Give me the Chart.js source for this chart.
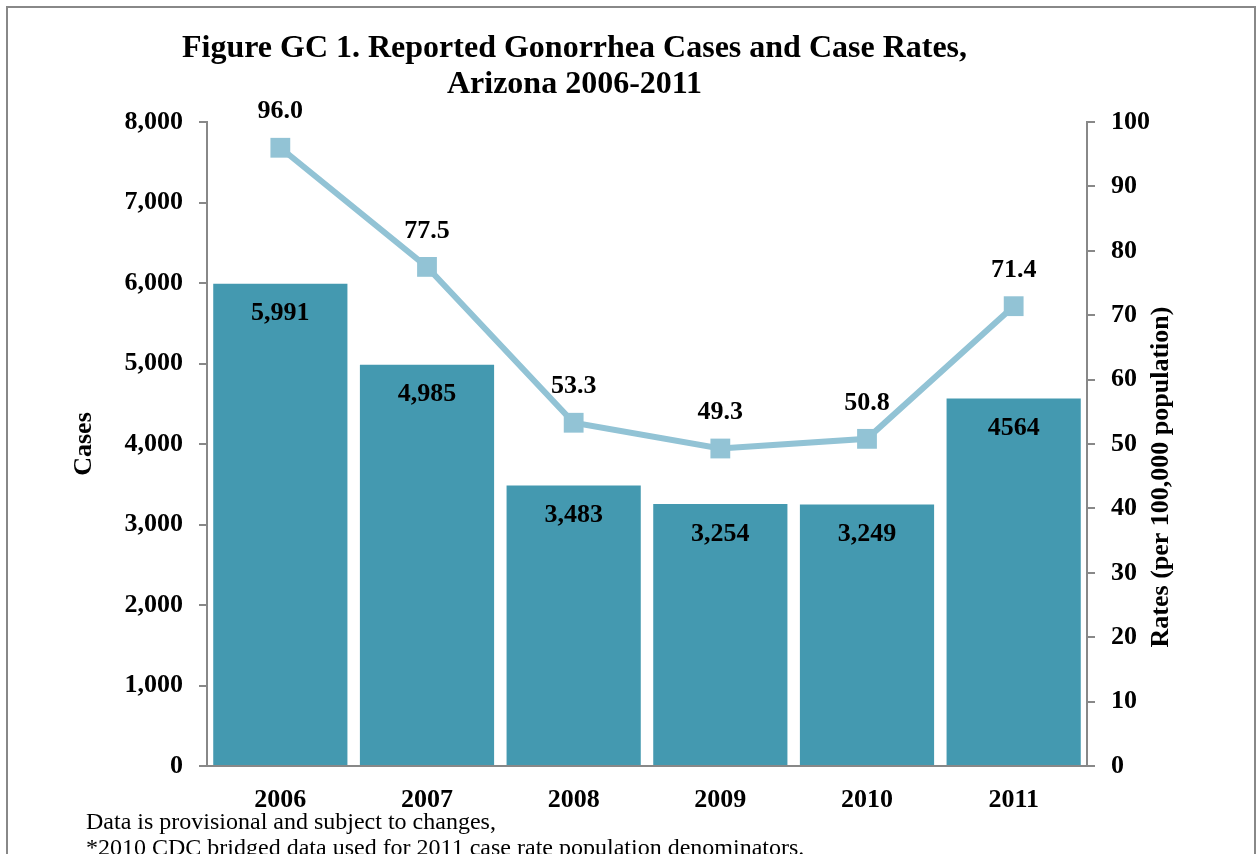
<!DOCTYPE html>
<html>
<head>
<meta charset="utf-8">
<script src="https://cdn.jsdelivr.net/npm/chart.js@4.4.1/dist/chart.umd.min.js"></script>
<style>
  body { margin: 0; background: #fff; }
  #wrap { position: relative; width: 1256px; height: 854px; overflow: hidden; font-family: "Liberation Serif", "Times New Roman", serif; }
  #frame { position: absolute; left: 6px; top: 6px; width: 1246px; height: 900px; border: 2px solid #888; pointer-events: none; }
  #title { position: absolute; left: 0; top: 28px; width: 1149px; text-align: center; font-weight: bold; font-size: 32px; line-height: 36px; color: #000; }
  #notes { position: absolute; left: 86px; top: 808px; font-size: 24px; line-height: 26px; color: #000; white-space: nowrap; }
  canvas { position: absolute; left: 0; top: 0; }
</style>
</head>
<body>
<div id="wrap">
  <canvas id="chart" width="1256" height="854"></canvas>
  <div id="title">Figure GC 1. Reported Gonorrhea Cases and Case Rates,<br>Arizona 2006-2011</div>
  <div id="notes">Data is provisional and subject to changes,<br>*2010 CDC bridged data used for 2011 case rate population denominators.</div>
  <div id="frame"></div>
</div>
<script>
// chart data
const years = ['2006', '2007', '2008', '2009', '2010', '2011'];
const cases = [5991, 4985, 3483, 3254, 3249, 4564];
const caseLabels = ['5,991', '4,985', '3,483', '3,254', '3,249', '4564'];
const rates = [96.0, 77.5, 53.3, 49.3, 50.8, 71.4];

const FONT = "'Liberation Serif', 'Times New Roman', serif";
const AXIS_GREY = '#888888';

// draws the value labels and the right axis title
const labelPlugin = {
  id: 'valueLabels',
  afterDatasetsDraw(chart) {
    const ctx = chart.ctx;
    ctx.save();
    ctx.fillStyle = '#000';
    ctx.font = `bold 26px ${FONT}`;
    ctx.textAlign = 'center';
    ctx.textBaseline = 'middle';

    const barMeta = chart.getDatasetMeta(1);
    barMeta.data.forEach((bar, i) => {
      ctx.fillText(caseLabels[i], bar.x, bar.y + 30);
    });

    const lineMeta = chart.getDatasetMeta(0);
    lineMeta.data.forEach((pt, i) => {
      ctx.fillText(rates[i].toFixed(1), pt.x, pt.y - 36);
    });

    // right axis title reads bottom-to-top like the left one
    ctx.translate(1161, 477);
    ctx.rotate(-Math.PI / 2);
    ctx.fillText('Rates (per 100,000 population)', 0, 0);
    ctx.restore();
  }
};

new Chart(document.getElementById('chart'), {
  data: {
    labels: years,
    datasets: [
      {
        type: 'line',
        label: 'Rate',
        data: rates,
        yAxisID: 'y1',
        order: 1,
        borderColor: '#92c3d5',
        borderWidth: 6,
        pointStyle: 'rect',
        pointRadius: 14,
        pointBackgroundColor: '#92c3d5',
        pointBorderWidth: 0,
        tension: 0
      },
      {
        type: 'bar',
        label: 'Cases',
        data: cases,
        yAxisID: 'y',
        order: 2,
        backgroundColor: '#4499b0',
        barPercentage: 0.915,
        categoryPercentage: 1
      }
    ]
  },
  options: {
    responsive: false,
    animation: false,
    layout: { padding: { top: 122, left: 0, right: 0, bottom: 0 } },
    plugins: {
      legend: { display: false },
      tooltip: { enabled: false }
    },
    scales: {
      x: {
        grid: { display: false },
        border: { display: true, color: AXIS_GREY, width: 2 },
        ticks: { color: '#000', padding: 11, font: { family: FONT, size: 26, weight: 'bold' } },
        afterFit(scale) { scale.height = 88; }
      },
      y: {
        position: 'left',
        min: 0,
        max: 8000,
        ticks: {
          stepSize: 1000,
          color: '#000',
          padding: 16,
          font: { family: FONT, size: 26, weight: 'bold' },
          callback: v => v.toLocaleString('en-US')
        },
        grid: { drawOnChartArea: false, drawTicks: true, tickLength: 8, color: AXIS_GREY, lineWidth: 2 },
        border: { display: true, color: AXIS_GREY, width: 2 },
        title: {
          display: true,
          text: 'Cases',
          color: '#000',
          font: { family: FONT, size: 26, weight: 'bold' },
          padding: { top: 69 }
        },
        afterFit(scale) { scale.width = 207; }
      },
      y1: {
        position: 'right',
        min: 0,
        max: 100,
        ticks: {
          stepSize: 10,
          color: '#000',
          padding: 16,
          font: { family: FONT, size: 26, weight: 'bold' }
        },
        grid: { drawOnChartArea: false, drawTicks: true, tickLength: 8, color: AXIS_GREY, lineWidth: 2 },
        border: { display: true, color: AXIS_GREY, width: 2 },
        afterFit(scale) { scale.width = 169; }
      }
    }
  },
  plugins: [labelPlugin]
});
</script>
</body>
</html>
